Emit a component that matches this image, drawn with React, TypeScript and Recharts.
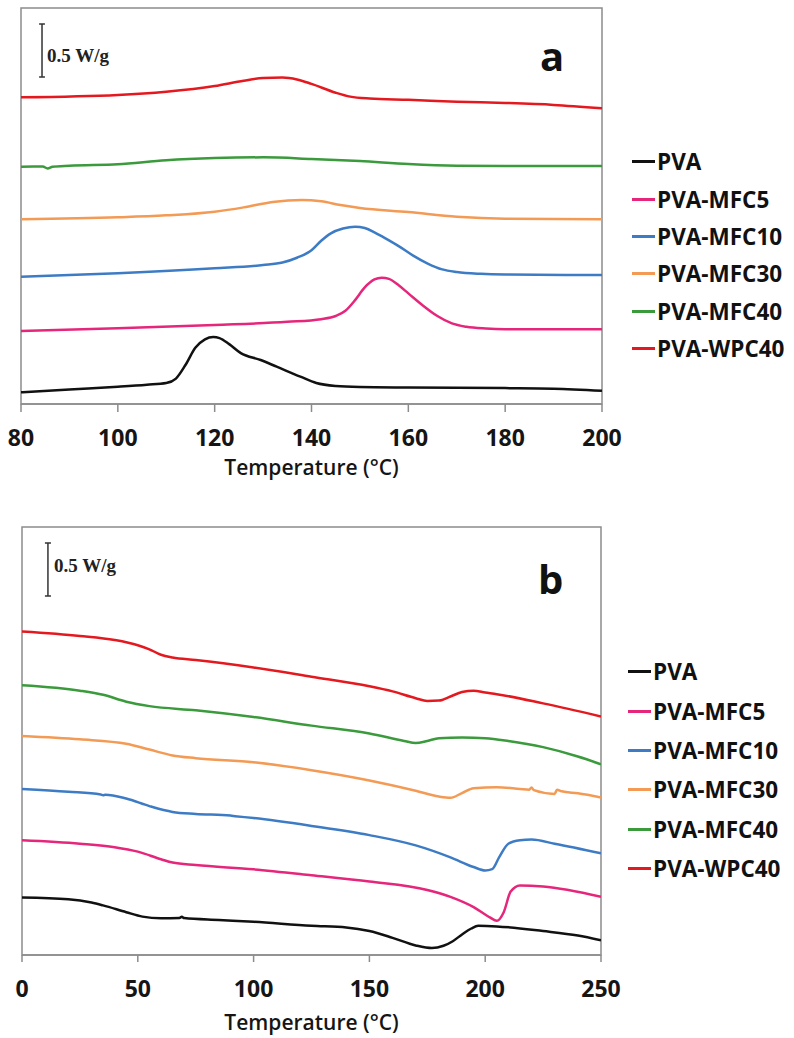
import React from "react";
import { LineChart, Line, XAxis, YAxis, ReferenceArea, ReferenceLine, Legend } from "recharts";

type Pt = [number, number];

const SERIES_NAMES = ["PVA", "PVA-MFC5", "PVA-MFC10", "PVA-MFC30", "PVA-MFC40", "PVA-WPC40"];
const SERIES_COLORS = ["#111111", "#e5267b", "#3d7cc4", "#f39a55", "#3a9a3c", "#e4191f"];

// Panel a: Temperature (°C) vs heat flow (W/g, offset)
const aTicks = [80, 100, 120, 140, 160, 180, 200];
const aPVA: Pt[] = [[80,0.110],[90,0.137],[100,0.163],[106,0.182],[110,0.198],[112,0.240],[114,0.370],[116,0.530],[118,0.610],[119.7,0.632],[121,0.622],[123,0.565],[125.4,0.480],[129.5,0.415],[132.8,0.352],[137.7,0.258],[141,0.198],[145,0.170],[150,0.160],[160,0.155],[180,0.150],[190,0.145],[200,0.125]];
const aMFC5: Pt[] = [[80,0.689],[100,0.714],[120,0.745],[135,0.775],[142,0.800],[145,0.830],[147,0.880],[149,0.980],[151,1.100],[153,1.175],[154.5,1.192],[156,1.180],[158,1.120],[160,1.044],[163,0.930],[166,0.830],[169,0.760],[172,0.728],[176,0.712],[180,0.706],[200,0.705]];
const aMFC10: Pt[] = [[80,1.201],[100,1.233],[120,1.280],[130,1.311],[134,1.335],[137,1.380],[140,1.450],[142,1.540],[144,1.610],[146.5,1.655],[149,1.673],[151,1.660],[153,1.620],[155,1.570],[158,1.490],[161,1.400],[164,1.325],[167,1.270],[170,1.245],[175,1.228],[180,1.222],[200,1.217]];
const aMFC30: Pt[] = [[80,1.742],[100,1.761],[110,1.780],[120,1.814],[126,1.855],[132,1.906],[138,1.925],[142,1.912],[146,1.877],[150,1.849],[160,1.811],[170,1.767],[180,1.748],[200,1.742]];
const aMFC40: Pt[] = [[80,2.239],[84.5,2.240],[85.5,2.222],[86.5,2.238],[90,2.248],[100,2.262],[110,2.300],[120,2.320],[130,2.327],[140,2.312],[150,2.292],[160,2.264],[170,2.248],[180,2.245],[200,2.245]];
const aWPC40: Pt[] = [[80,2.893],[100,2.915],[110,2.946],[120,3.000],[126,3.050],[130,3.075],[134,3.080],[137,3.062],[140,3.020],[145,2.937],[148,2.900],[152,2.882],[160,2.870],[170,2.852],[180,2.840],[190,2.822],[200,2.790]];

// Panel b
const bTicks = [0, 50, 100, 150, 200, 250];
const bPVA: Pt[] = [[0,0.543],[20,0.526],[30,0.495],[35,0.468],[45,0.404],[52,0.362],[60,0.346],[68,0.350],[69,0.360],[70,0.348],[85,0.330],[100,0.313],[125,0.275],[140,0.260],[150,0.226],[160,0.162],[170,0.090],[177,0.065],[182,0.087],[186,0.130],[190,0.194],[194,0.250],[197,0.275],[205,0.270],[225,0.226],[240,0.184],[250,0.139]];
const bMFC5: Pt[] = [[0,1.082],[25,1.050],[40,1.017],[50,0.975],[60,0.904],[65,0.872],[75,0.849],[100,0.808],[125,0.753],[150,0.694],[175,0.614],[185,0.549],[195,0.452],[202,0.355],[205,0.323],[208,0.404],[211,0.598],[215,0.656],[225,0.646],[250,0.549]];
const bMFC10: Pt[] = [[0,1.567],[20,1.541],[34,1.515],[35,1.508],[36,1.512],[45,1.476],[55,1.405],[65,1.350],[75,1.331],[90,1.315],[92,1.310],[100,1.292],[125,1.218],[150,1.131],[170,1.034],[185,0.921],[195,0.830],[200,0.798],[203,0.810],[206,0.921],[210,1.050],[215,1.082],[220,1.089],[230,1.050],[250,0.959]];
const bMFC30: Pt[] = [[0,2.067],[25,2.035],[45,1.993],[55,1.938],[65,1.883],[75,1.857],[100,1.818],[125,1.744],[150,1.647],[170,1.550],[180,1.495],[185,1.483],[190,1.528],[195,1.573],[205,1.583],[215,1.567],[219,1.560],[220,1.580],[221,1.555],[230,1.520],[231,1.560],[233,1.545],[240,1.525],[250,1.486]];
const bMFC40: Pt[] = [[0,2.545],[25,2.494],[35,2.455],[45,2.390],[55,2.348],[75,2.309],[100,2.245],[125,2.164],[150,2.090],[165,2.019],[170,1.999],[175,2.019],[180,2.045],[190,2.051],[200,2.045],[210,2.019],[225,1.961],[240,1.873],[250,1.799]];
const bWPC40: Pt[] = [[0,3.052],[25,3.010],[40,2.972],[50,2.923],[55,2.884],[60,2.833],[65,2.807],[75,2.784],[100,2.713],[125,2.626],[150,2.536],[160,2.487],[170,2.423],[175,2.397],[180,2.400],[185,2.439],[190,2.481],[195,2.494],[200,2.477],[205,2.461],[225,2.374],[250,2.251]];

const SCALE_BAR_WG = 0.5;

const FONT = "'Open Sans', sans-serif";
const BOX = "#8c8c8c";

type PanelProps = {
  top: number;
  height: number;
  margin: { top: number; left: number; right: number; bottom: number };
  xDomain: [number, number];
  yMax: number;
  ticks: number[];
  series: Pt[][];
  tickSize: number;
  tickMargin: number;
  titleOffset: number;
  barX: number;
  barTop: number;
  barCap: number;
  legendLeft: number;
  legendTop: number;
  legendRow: number;
  letter: string;
  letterPos: { left: number; top: number };
  barTextPos: { left: number; top: number };
};

function Panel(p: PanelProps) {
  const renderLegend = () => (
    <div style={{ fontFamily: FONT, fontWeight: 700, fontSize: 22.5, color: "#111" }}>
      {SERIES_NAMES.map((n, i) => (
        <div key={n} style={{ height: p.legendRow, display: "flex", alignItems: "center", whiteSpace: "nowrap" }}>
          <span style={{ display: "inline-block", width: 23, height: 3, background: SERIES_COLORS[i], marginRight: 2 }} />
          <span>{n}</span>
        </div>
      ))}
    </div>
  );
  return (
    <div style={{ position: "absolute", left: 0, top: p.top, width: 794, height: p.height }}>
      <LineChart width={794} height={p.height} margin={p.margin}>
        <XAxis
          dataKey="t"
          type="number"
          domain={p.xDomain}
          ticks={p.ticks}
          allowDataOverflow
          height={80}
          axisLine={{ stroke: BOX, strokeWidth: 1.5 }}
          tickLine={{ stroke: BOX, strokeWidth: 1.5 }}
          tickSize={p.tickSize}
          tickMargin={p.tickMargin}
          tick={{ fill: "#151515", fontFamily: FONT, fontWeight: 700, fontSize: 23 }}
          label={{ value: "Temperature (°C)", position: "insideBottom", offset: p.titleOffset, style: { fill: "#151515", fontFamily: FONT, fontWeight: 600, fontSize: 21 } }}
        />
        <YAxis hide type="number" domain={[0, p.yMax]} allowDataOverflow />
        <ReferenceArea x1={p.xDomain[0]} x2={p.xDomain[1]} y1={0} y2={p.yMax} fill="none" stroke={BOX} strokeWidth={1.5} ifOverflow="extendDomain" />
        <ReferenceLine segment={[{ x: p.barX, y: p.barTop }, { x: p.barX, y: p.barTop - SCALE_BAR_WG }]} stroke="#333" strokeWidth={1.5} />
        <ReferenceLine segment={[{ x: p.barX - p.barCap, y: p.barTop }, { x: p.barX + p.barCap, y: p.barTop }]} stroke="#333" strokeWidth={1.5} />
        <ReferenceLine segment={[{ x: p.barX - p.barCap, y: p.barTop - SCALE_BAR_WG }, { x: p.barX + p.barCap, y: p.barTop - SCALE_BAR_WG }]} stroke="#333" strokeWidth={1.5} />
        {p.series.map((s, i) => (
          <Line
            key={SERIES_NAMES[i]}
            name={SERIES_NAMES[i]}
            data={s.map(([t, v]) => ({ t, v }))}
            dataKey="v"
            type="monotone"
            stroke={SERIES_COLORS[i]}
            strokeWidth={2.5}
            dot={false}
            activeDot={false}
            isAnimationActive={false}
          />
        ))}
        <Legend
          layout="vertical"
          align="center"
          verticalAlign="middle"
          content={renderLegend}
          wrapperStyle={{ left: p.legendLeft, top: p.legendTop, width: 160 }}
        />
      </LineChart>
      <div style={{ position: "absolute", left: p.barTextPos.left, top: p.barTextPos.top, fontFamily: "'Liberation Serif', serif", fontWeight: 700, fontSize: 19, color: "#222", whiteSpace: "nowrap", lineHeight: 1 }}>
        0.5 W/g
      </div>
      <div style={{ position: "absolute", left: p.letterPos.left, top: p.letterPos.top, fontFamily: FONT, fontWeight: 700, fontSize: 40, color: "#111", lineHeight: 1 }}>
        {p.letter}
      </div>
    </div>
  );
}

export default function App() {
  return (
    <div style={{ position: "absolute", left: 0, top: 0, width: 794, height: 1038, background: "#fff" }}>
      <Panel
        top={0}
        height={490}
        margin={{ top: 8, left: 21, right: 192, bottom: 6 }}
        xDomain={[80, 200]}
        yMax={3.736}
        ticks={aTicks}
        series={[aPVA, aMFC5, aMFC10, aMFC30, aMFC40, aWPC40]}
        tickSize={8}
        tickMargin={18}
        titleOffset={9}
        barX={84.34}
        barTop={3.585}
        barCap={0.6}
        legendLeft={632}
        legendTop={143}
        legendRow={37.4}
        letter="a"
        letterPos={{ left: 540, top: 36 }}
        barTextPos={{ left: 47, top: 46 }}
      />
      <Panel
        top={519}
        height={519}
        margin={{ top: 8, left: 22, right: 193, bottom: 3 }}
        xDomain={[0, 250]}
        yMax={4.038}
        ticks={bTicks}
        series={[bPVA, bMFC5, bMFC10, bMFC30, bMFC40, bWPC40]}
        tickSize={7}
        tickMargin={19}
        titleOffset={5}
        barX={11.2}
        barTop={3.887}
        barCap={1.3}
        legendLeft={628}
        legendTop={133}
        legendRow={39.4}
        letter="b"
        letterPos={{ left: 538, top: 40 }}
        barTextPos={{ left: 54, top: 37 }}
      />
    </div>
  );
}
